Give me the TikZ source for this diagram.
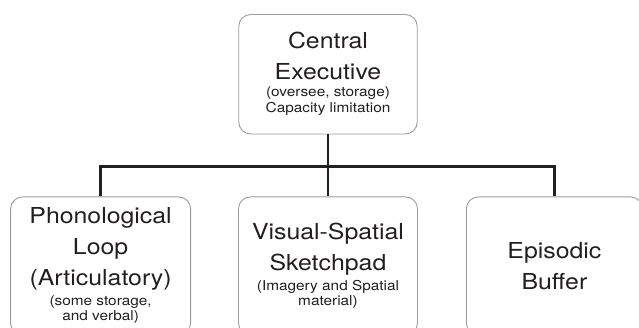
\documentclass[tikz,border=0pt]{standalone}
\usepackage{fontspec}
\setmainfont{TeX Gyre Heros}[FakeStretch=1.13]
\usepackage{xcolor}
\usepackage{tikz}
\usetikzlibrary{positioning}
\definecolor{ink}{HTML}{231F20}
\definecolor{rim}{HTML}{9C9C9C}
\newcommand{\headsize}{\fontsize{22}{31}\selectfont}
\newcommand{\notesize}{\fontsize{13.6}{15.5}\selectfont}
\tikzset{
  unit/.style={rectangle, rounded corners=12pt, draw=rim, line width=0.9pt, fill=white,
               align=center, inner sep=2pt, text=ink, font=\headsize},
  topunit/.style={unit, minimum width=178.5pt, minimum height=119.5pt},
  subunit/.style={unit, minimum width=179pt, minimum height=138pt},
  link/.style={draw=ink, line width=2.5pt},
}

\begin{document}
\begin{tikzpicture}[x=1pt, y=1pt]
  \useasboundingbox (0,0) rectangle (639,-327);
  \clip (0,0) rectangle (639,-327);
  \node[topunit] (ce) at (328,-74.25) {Central\\Executive\\[-14pt] \notesize (oversee, storage)\\[-15pt] \notesize Capacity limitation};
  \node[subunit, below=62pt of ce] (vs) {Visual-Spatial\\Sketchpad\\[-11pt] \notesize (Imagery and Spatial\\[-16pt] \notesize material)};
  \node[subunit, minimum width=180pt, left=47pt of vs] (pl) {Phonological\\Loop\\(Articulatory)\\[-11pt] \notesize (some storage,\\[-16pt] \notesize and verbal)};
  \node[subunit, minimum width=176pt, right=48pt of vs] (eb) {Episodic\\Buffer};
  \coordinate (hub) at ([yshift=-32pt]ce.south);
  \draw[link] (ce.south) -- (vs.north);
  \draw[link] (pl.north) |- (hub) -| (eb.north);
\end{tikzpicture}
\end{document}
